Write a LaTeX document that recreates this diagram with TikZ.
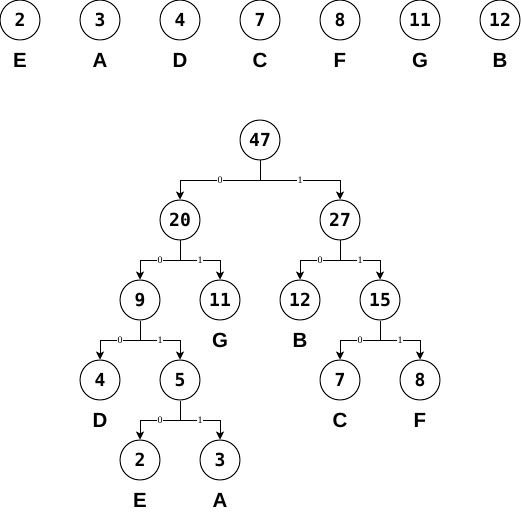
\documentclass[tikz,border=0pt]{standalone}
\usepackage{fontspec}
\setmainfont{Liberation Sans}
\newfontfamily\numfont{DejaVu Sans Mono}
\newfontfamily\bitfont{Liberation Serif}
\usetikzlibrary{arrows.meta,positioning}

\tikzset{
  sym/.style={circle, draw, line width=1pt, minimum size=40pt, inner sep=0pt, font=\numfont\bfseries\fontsize{18}{18}\selectfont},
  letter/.style={font=\bfseries\fontsize{20.5}{20.5}\selectfont, inner sep=0pt},
  edge/.style={line width=1pt, -{Stealth[length=8pt,width=8pt,inset=2pt]}},
  bit/.style={fill=white, inner sep=0.5pt, font=\bitfont\fontsize{10}{10}\selectfont}
}

\begin{document}
\begin{tikzpicture}[x=1pt, y=-1pt]
        \useasboundingbox (0,0) rectangle (522,521);

        % Symbols with their counts
        \foreach \x/\n/\l in {20/2/E, 100/3/A, 180/4/D, 260/7/C, 340/8/F, 420/11/G, 500/12/B} {
            \node[sym] (s\l) at (\x, 20) {\n};
            \node[letter] (t\l) at (\x, 60) {\l};
        }

        % Tree nodes
        \node[sym] (n47) at (260, 140) {47};
        \node[sym] (n20) at (180, 220) {20};
        \node[sym] (n27) at (340, 220) {27};
        \node[sym] (n9) at (140, 300) {9};
        \node[sym] (lG) at (220, 300) {11};
        \node[sym] (lB) at (300, 300) {12};
        \node[sym] (n15) at (380, 300) {15};
        \node[sym] (lD) at (100, 380) {4};
        \node[sym] (n5) at (180, 380) {5};
        \node[sym] (lC) at (340, 380) {7};
        \node[sym] (lF) at (420, 380) {8};
        \node[sym] (lE) at (140, 460) {2};
        \node[sym] (lA) at (220, 460) {3};

        % Leaf letters
        \node[letter] (gG) at (220, 340) {G};
        \node[letter] (gB) at (300, 340) {B};
        \node[letter] (gD) at (100, 420) {D};
        \node[letter] (gC) at (340, 420) {C};
        \node[letter] (gF) at (420, 420) {F};
        \node[letter] (gE) at (140, 500) {E};
        \node[letter] (gA) at (220, 500) {A};

        % Branches
        \foreach \p/\a/\b in {n47/n20/n27, n20/n9/lG, n27/lB/n15, n9/lD/n5, n15/lC/lF, n5/lE/lA} {
            \draw[edge] (\p.south) -- ++(0, 20) -| node[bit, pos=0.25] {0} (\a.north);
            \draw[edge] (\p.south) -- ++(0, 20) -| node[bit, pos=0.25] {1} (\b.north);
        }
    \end{tikzpicture}
\end{document}
